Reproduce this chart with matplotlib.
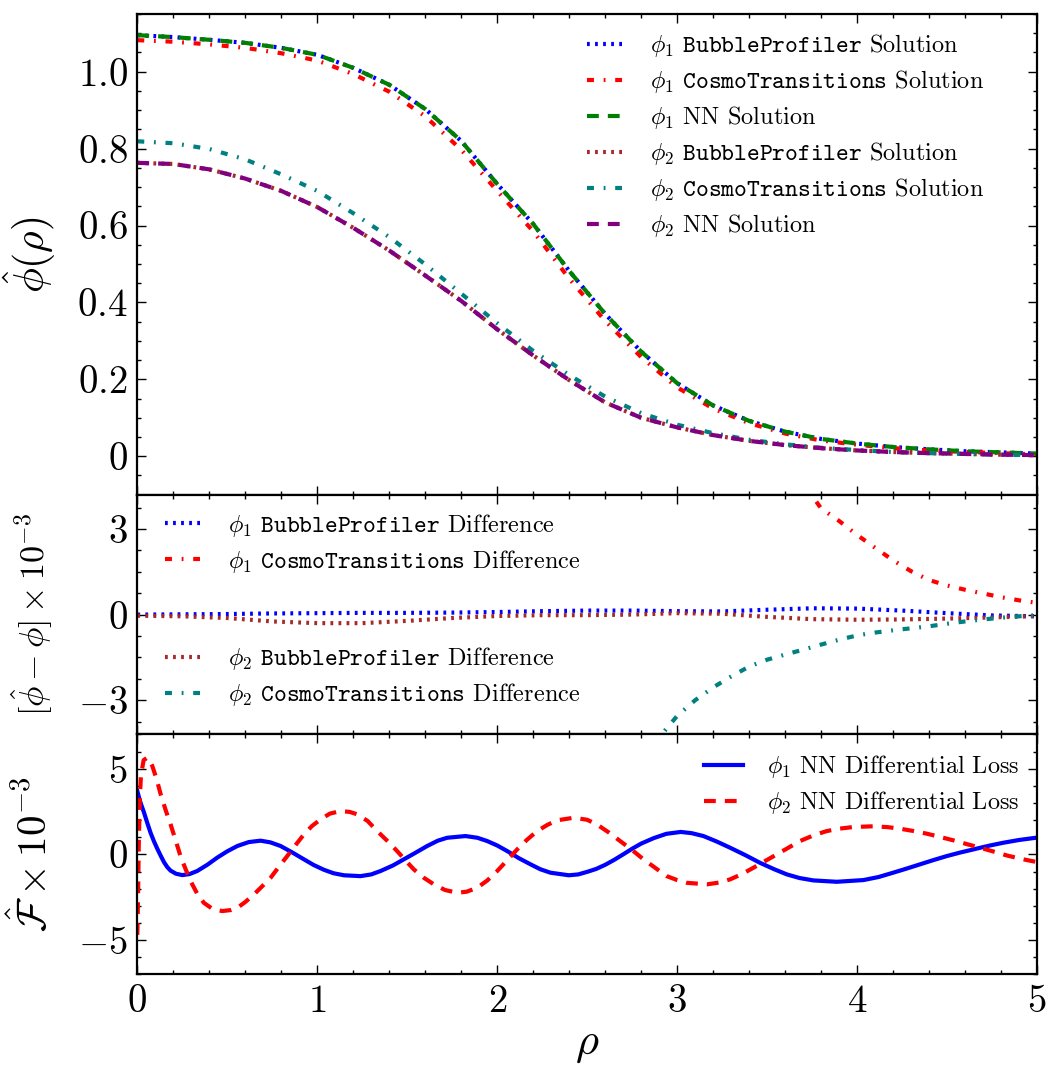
import matplotlib
matplotlib.use("Agg")
import matplotlib.pyplot as plt
from matplotlib.ticker import FixedLocator, MultipleLocator, FuncFormatter

plt.rcParams['font.family'] = 'serif'
plt.rcParams['font.serif'] = ['cmr10']
plt.rcParams['mathtext.fontset'] = 'cm'
plt.rcParams['axes.unicode_minus'] = False
plt.rcParams['axes.formatter.use_mathtext'] = True
plt.rcParams['lines.scale_dashes'] = False

# --- top panel: field profiles ---
rho_sol = [0.0, 0.2, 0.4, 0.6, 0.8, 1.0, 1.2, 1.4, 1.6, 1.8, 2.0, 2.2, 2.4,
           2.6, 2.8, 3.0, 3.2, 3.4, 3.6, 3.8, 4.0, 4.2, 4.4, 4.6, 4.8, 5.0]
phi1_nn = [1.095, 1.090, 1.083, 1.075, 1.062, 1.044, 1.010, 0.966, 0.903, 0.820,
           0.708, 0.604, 0.482, 0.370, 0.272, 0.190, 0.132, 0.092, 0.064, 0.045,
           0.033, 0.024, 0.018, 0.013, 0.010, 0.007]
phi1_bp = phi1_nn
phi1_ct = [1.082, 1.078, 1.071, 1.062, 1.048, 1.029, 0.994, 0.948, 0.884, 0.797,
           0.690, 0.585, 0.462, 0.352, 0.258, 0.179, 0.124, 0.086, 0.059, 0.041,
           0.030, 0.021, 0.015, 0.011, 0.008, 0.005]
phi2_nn = [0.763, 0.760, 0.746, 0.722, 0.690, 0.648, 0.594, 0.535, 0.470, 0.404,
           0.330, 0.262, 0.198, 0.140, 0.100, 0.075, 0.055, 0.040, 0.029, 0.021,
           0.015, 0.011, 0.008, 0.006, 0.004, 0.003]
phi2_bp = phi2_nn
phi2_ct = [0.819, 0.814, 0.799, 0.772, 0.733, 0.690, 0.632, 0.570, 0.499, 0.423,
           0.346, 0.274, 0.211, 0.155, 0.112, 0.082, 0.060, 0.043, 0.031, 0.022,
           0.016, 0.011, 0.008, 0.006, 0.004, 0.003]

# --- middle panel: differences (x 1e-3) ---
rho_bp = [0.0, 0.25, 0.5, 0.75, 1.0, 1.25, 1.5, 1.75, 2.0, 2.25, 2.5, 2.75,
          3.0, 3.25, 3.5, 3.75, 4.0, 4.25, 4.5, 4.75, 5.0]
diff1_bp = [0.00, 0.01, 0.02, 0.04, 0.05, 0.06, 0.06, 0.07, 0.09, 0.12, 0.14,
            0.14, 0.12, 0.11, 0.17, 0.22, 0.21, 0.14, 0.05, -0.03, -0.06]
diff2_bp = [-0.04, -0.06, -0.12, -0.24, -0.30, -0.30, -0.22, -0.12, -0.05, -0.02,
            -0.02, 0.00, 0.05, 0.03, -0.08, -0.16, -0.18, -0.17, -0.14, -0.10, -0.05]
rho_ct1 = [3.6, 3.7, 3.8, 3.9, 4.0, 4.1, 4.2, 4.3, 4.4, 4.5, 4.6, 4.7, 4.8, 4.9, 5.0]
diff1_ct = [5.6, 4.60, 3.72, 3.28, 2.79, 2.34, 1.90, 1.52, 1.21, 1.02, 0.87,
            0.74, 0.61, 0.50, 0.41]
rho_ct2 = [2.8, 2.9, 3.0, 3.1, 3.2, 3.3, 3.4, 3.5, 3.6, 3.7, 3.8, 3.9, 4.0,
           4.1, 4.2, 4.3, 4.4, 4.5, 4.6, 4.7, 4.8, 4.9, 5.0]
diff2_ct = [-5.4, -4.3, -3.55, -3.0, -2.55, -2.17, -1.82, -1.58, -1.40, -1.23,
            -1.05, -0.88, -0.73, -0.63, -0.55, -0.48, -0.41, -0.32, -0.24, -0.17,
            -0.11, -0.06, -0.02]

# --- bottom panel: differential loss (x 1e-3) ---
rho_loss1 = [0.000, 0.010, 0.020, 0.037, 0.055, 0.074, 0.093, 0.111, 0.130, 0.148,
             0.167, 0.185, 0.215, 0.250, 0.290, 0.333, 0.390, 0.444, 0.500, 0.556,
             0.620, 0.685, 0.740, 0.796, 0.860, 0.926, 0.980, 1.037, 1.090, 1.148,
             1.240, 1.300, 1.352, 1.420, 1.481, 1.550, 1.611, 1.670, 1.722, 1.824,
             1.890, 1.944, 2.000, 2.056, 2.120, 2.185, 2.240, 2.296, 2.398, 2.450,
             2.500, 2.550, 2.600, 2.650, 2.700, 2.750, 2.800, 2.870, 2.940, 3.020,
             3.080, 3.146, 3.220, 3.294, 3.380, 3.460, 3.540, 3.610, 3.680, 3.757,
             3.887, 4.035, 4.120, 4.200, 4.275, 4.350, 4.425, 4.498, 4.570, 4.646,
             4.730, 4.813, 4.900, 5.000]
loss1 = [3.70, 3.30, 2.95, 2.45, 1.85, 1.25, 0.75, 0.33, -0.08, -0.45,
         -0.75, -0.95, -1.13, -1.21, -1.15, -0.97, -0.60, -0.19, 0.18, 0.49,
         0.72, 0.80, 0.70, 0.49, 0.12, -0.29, -0.62, -0.90, -1.10, -1.22,
         -1.27, -1.17, -0.97, -0.65, -0.29, 0.12, 0.49, 0.80, 0.97, 1.07,
         0.97, 0.78, 0.52, 0.19, -0.22, -0.58, -0.87, -1.07, -1.22, -1.17,
         -1.02, -0.85, -0.61, -0.32, 0.00, 0.33, 0.63, 0.95, 1.20, 1.31,
         1.24, 1.07, 0.75, 0.39, -0.05, -0.49, -0.87, -1.17, -1.38, -1.52,
         -1.60, -1.50, -1.32, -1.07, -0.83, -0.58, -0.33, -0.10, 0.10, 0.29,
         0.50, 0.68, 0.84, 0.98]
rho_loss2 = [0.000, 0.004, 0.008, 0.013, 0.020, 0.035, 0.056, 0.083, 0.107, 0.130,
             0.157, 0.185, 0.212, 0.240, 0.268, 0.296, 0.333, 0.370, 0.420, 0.472,
             0.520, 0.556, 0.600, 0.648, 0.695, 0.741, 0.787, 0.833, 0.880, 0.926,
             0.970, 1.019, 1.070, 1.130, 1.180, 1.222, 1.280, 1.333, 1.390, 1.444,
             1.490, 1.537, 1.590, 1.648, 1.710, 1.778, 1.830, 1.889, 1.945, 2.000,
             2.055, 2.111, 2.165, 2.222, 2.280, 2.333, 2.426, 2.500, 2.554, 2.620,
             2.683, 2.750, 2.813, 2.880, 2.942, 3.000, 3.054, 3.165, 3.230, 3.294,
             3.360, 3.424, 3.490, 3.554, 3.620, 3.683, 3.760, 3.831, 3.900, 3.980,
             4.090, 4.170, 4.239, 4.310, 4.387, 4.460, 4.535, 4.610, 4.683, 4.760,
             4.831, 4.910, 5.000]
loss2 = [-4.70, -2.50, 0.50, 3.00, 4.60, 5.50, 5.65, 5.17, 4.40, 3.50,
         2.60, 1.75, 0.85, -0.10, -0.85, -1.56, -2.30, -2.83, -3.20, -3.31,
         -3.25, -3.12, -2.78, -2.34, -1.85, -1.36, -0.72, -0.10, 0.55, 1.17,
         1.65, 2.05, 2.38, 2.53, 2.48, 2.34, 1.95, 1.36, 0.78, 0.19,
         -0.35, -0.88, -1.35, -1.75, -2.08, -2.24, -2.18, -1.95, -1.52, -0.97,
         -0.35, 0.29, 0.85, 1.36, 1.73, 1.99, 2.14, 2.02, 1.75, 1.28,
         0.78, 0.25, -0.29, -0.80, -1.27, -1.50, -1.66, -1.75, -1.65, -1.46,
         -1.15, -0.78, -0.38, 0.00, 0.40, 0.78, 1.12, 1.36, 1.50, 1.60,
         1.64, 1.59, 1.50, 1.37, 1.21, 1.02, 0.82, 0.60, 0.39, 0.16,
         -0.06, -0.26, -0.45]

DOT = (0, (2.0, 3.8))
DASH = (0, (8.5, 6.5))
DASHDOT = (0, (5.0, 7.0, 1.3, 7.0))
LW = 3.0
LEG = dict(frameon=False, fontsize=17.5, handlelength=1.45, handletextpad=1.15,
           labelspacing=0.37, borderpad=0, borderaxespad=0, loc='upper left')

fig = plt.figure(figsize=(10.62, 10.87), dpi=100)
left, width = 0.1293, 0.8472
ax1 = fig.add_axes([left, 0.5449, width, 0.4422])
ax2 = fig.add_axes([left, 0.3243, width, 0.2206])
ax3 = fig.add_axes([left, 0.1037, width, 0.2206])

ax1.plot(rho_sol, phi1_bp, color='blue', ls=DOT, lw=LW,
         label=r'$\phi_1$ $\mathtt{BubbleProfiler}$ Solution')
ax1.plot(rho_sol, phi1_ct, color='red', ls=DASHDOT, lw=LW,
         label=r'$\phi_1$ $\mathtt{CosmoTransitions}$ Solution')
ax1.plot(rho_sol, phi1_nn, color='green', ls=DASH, lw=LW,
         label=r'$\phi_1$ NN Solution')
ax1.plot(rho_sol, phi2_bp, color='brown', ls=DOT, lw=LW,
         label=r'$\phi_2$ $\mathtt{BubbleProfiler}$ Solution')
ax1.plot(rho_sol, phi2_ct, color='teal', ls=DASHDOT, lw=LW,
         label=r'$\phi_2$ $\mathtt{CosmoTransitions}$ Solution')
ax1.plot(rho_sol, phi2_nn, color='purple', ls=DASH, lw=LW,
         label=r'$\phi_2$ NN Solution')
ax1.set_ylim(-0.1, 1.15)
ax1.yaxis.set_major_locator(FixedLocator([0, 0.2, 0.4, 0.6, 0.8, 1.0]))
ax1.yaxis.set_minor_locator(MultipleLocator(0.05))
ax1.yaxis.set_major_formatter(FuncFormatter(
    lambda v, p: r'$0$' if abs(v) < 1e-9 else r'$%.1f$' % v))
ax1.set_ylabel(r'$\hat{\phi}(\rho)$', fontsize=30)
ax1.legend(bbox_to_anchor=(0.5, 0.962), **LEG)

l1, = ax2.plot(rho_bp, diff1_bp, color='blue', ls=DOT, lw=LW)
l2, = ax2.plot(rho_ct1, diff1_ct, color='red', ls=DASHDOT, lw=LW)
l3, = ax2.plot(rho_bp, diff2_bp, color='brown', ls=DOT, lw=LW)
l4, = ax2.plot(rho_ct2, diff2_ct, color='teal', ls=DASHDOT, lw=LW)
ax2.set_ylim(-4.2, 4.2)
ax2.yaxis.set_major_locator(FixedLocator([-3, 0, 3]))
ax2.yaxis.set_minor_locator(MultipleLocator(0.75))
ax2.yaxis.set_major_formatter(FuncFormatter(lambda v, p: r'$%d$' % round(v)))
ax2.set_ylabel(r'$[\hat{\phi}-\phi]\times10^{-3}$', fontsize=24.5)
leg_a = ax2.legend([l1, l2], [r'$\phi_1$ $\mathtt{BubbleProfiler}$ Difference',
                              r'$\phi_1$ $\mathtt{CosmoTransitions}$ Difference'],
                   bbox_to_anchor=(0.031, 0.928), **LEG)
ax2.add_artist(leg_a)
ax2.legend([l3, l4], [r'$\phi_2$ $\mathtt{BubbleProfiler}$ Difference',
                      r'$\phi_2$ $\mathtt{CosmoTransitions}$ Difference'],
           bbox_to_anchor=(0.031, 0.372), **LEG)

ax3.plot(rho_loss1, loss1, color='blue', ls='-', lw=LW,
         label=r'$\phi_1$ NN Differential Loss')
ax3.plot(rho_loss2, loss2, color='red', ls=DASH, lw=LW,
         label=r'$\phi_2$ NN Differential Loss')
ax3.set_ylim(-7, 7)
ax3.yaxis.set_major_locator(FixedLocator([-5, 0, 5]))
ax3.yaxis.set_minor_locator(MultipleLocator(1))
ax3.yaxis.set_major_formatter(FuncFormatter(lambda v, p: r'$%d$' % round(v)))
ax3.set_ylabel(r'$\hat{\mathcal{F}}\times10^{-3}$', fontsize=29.5)
ax3.set_xlabel(r'$\rho$', fontsize=32)
LEG3 = dict(LEG, handlelength=1.6, handletextpad=1.0)
ax3.legend(bbox_to_anchor=(0.63, 0.922), **LEG3)

for ax in (ax1, ax2, ax3):
    ax.set_xlim(0, 5)
    ax.xaxis.set_major_locator(MultipleLocator(1))
    ax.xaxis.set_minor_locator(MultipleLocator(0.2))
    ax.xaxis.set_major_formatter(FuncFormatter(lambda v, p: r'$%d$' % round(v)))
    ax.tick_params(which='both', direction='in', top=True, right=True, width=1.0)
    ax.tick_params(which='major', length=6.5, labelsize=28, pad=7)
    ax.tick_params(which='minor', length=3.2)
    ax.yaxis.set_label_coords(-0.092, 0.5)
    for s in ax.spines.values():
        s.set_linewidth(1.6)
for ax in (ax1, ax2):
    ax.tick_params(labelbottom=False)
ax1.yaxis.set_label_coords(-0.088, 0.5)

fig.savefig('out.png', dpi=100)
